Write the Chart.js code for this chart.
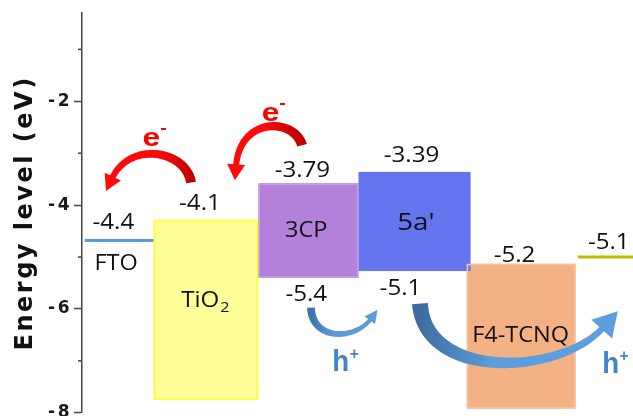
<!DOCTYPE html>
<html><head><meta charset="utf-8">
<script src="https://cdn.jsdelivr.net/npm/chart.js@4"></script>
<style>
html,body{margin:0;padding:0;overflow:hidden;background:#fff}
#wrap{position:relative;width:633px;height:425px}
</style>
</head><body><div id="wrap"><canvas id="c"></canvas></div>
<script>
// ---- data (energy levels in eV, horizontal spans in arbitrary x units) ----
const materials   = ['FTO', 'TiO2', '3CP', "5a'", 'F4-TCNQ', 'contact'];
const upperLevel  = [-4.68, -4.28, -3.58, -3.36, -5.13, -5.00];   // drawn top edge
const lowerLevel  = [null,  -7.75, -5.40, -5.27, -7.92, null ];   // drawn bottom edge (null = single line)
const spanStart   = [0.05, 1.30, 3.20, 5.02, 6.98, 9.00];
const spanEnd     = [1.30, 3.20, 5.02, 7.05, 8.96, 10.0];
const upperLabels = ['-4.4', '-4.1', '-3.79', '-3.39', '-5.2', '-5.1'];
const lowerLabels = ['', '', '-5.4', '-5.1', '', ''];
const nameLabels  = ['FTO', 'TiO2', '3CP', "5a'", 'F4-TCNQ', ''];
const yTickValues = [-8, -6, -4, -2];

// ---- styles ----
const fillColors   = ['#5b9bd5', '#ffff99', '#b381d9', '#6474ef', '#f4b183', '#bfbf00'];
const borderColors = [null, '#ffff2e', '#c6a0e4', '#6474ef', '#f6c3a0', null];

// annotation anchors (data units)
const upperLabelPos = [[0.57,-4.34],[2.14,-3.98],[4.00,-3.35],[5.98,-3.06],[7.85,-4.98],[9.56,-4.73]];
const lowerLabelPos = [null,null,[4.07,-5.74],[5.78,-5.62],null,null];
const namePos       = [[0.62,-5.14],[2.23,-5.84],[4.07,-4.49],[6.06,-4.34],[7.96,-6.53],null];
const electronPos = [[1.10,-2.86],[3.26,-2.38]];
const holePos     = [[4.54,-7.19],[9.44,-7.23]];
const arrows = [
  {pts:[[1.978,-3.563],[1.887,-2.945],[0.871,-2.752],[0.544,-3.486]], w0:10, w1:6, hw:18, hl:14, c0:'#c00000', c1:'#ff0a0a'},
  {pts:[[3.993,-2.849],[3.866,-2.328],[2.868,-2.270],[2.795,-3.254]], w0:10, w1:6, hw:18, hl:14, c0:'#c00000', c1:'#ff0a0a'},
  {pts:[[4.156,-5.975],[4.174,-6.611],[4.955,-6.611],[5.245,-6.187]], w0:8, w1:4, hw:13, hl:11, c0:'#3f72a8', c1:'#5b9bd8'},
  {pts:[[6.134,-5.897],[6.225,-7.383],[8.675,-7.286],[9.456,-6.360]], w0:16, w1:6, hw:28, hl:22, c0:'#3d6c9e', c1:'#5d9fdc'}
];

const datasets = materials.map((m, i) => {
  const isLine = lowerLevel[i] === null;
  return {
    label: m,
    data: [{x: spanStart[i], y: upperLevel[i]}, {x: spanEnd[i], y: upperLevel[i]}],
    borderColor: isLine ? fillColors[i] : 'rgba(0,0,0,0)',
    borderWidth: isLine ? 3 : 0,
    backgroundColor: fillColors[i],
    fill: isLine ? false : {value: lowerLevel[i]},
    pointRadius: 0, pointHoverRadius: 0, tension: 0
  };
});

function bez(p, t) {
  const u = 1 - t;
  return {
    x: u*u*u*p[0].x + 3*u*u*t*p[1].x + 3*u*t*t*p[2].x + t*t*t*p[3].x,
    y: u*u*u*p[0].y + 3*u*u*t*p[1].y + 3*u*t*t*p[2].y + t*t*t*p[3].y
  };
}
function drawArrow(ctx, p, a) {
  const N = 60, L = [], R = [];
  let dEnd = null;
  for (let i = 0; i <= N; i++) {
    const t = i / N;
    const c = bez(p, t);
    const q = bez(p, Math.min(1, t + 0.002)), r = bez(p, Math.max(0, t - 0.002));
    let dx = q.x - r.x, dy = q.y - r.y; const len = Math.hypot(dx, dy) || 1; dx /= len; dy /= len;
    const w = (a.w0 + (a.w1 - a.w0) * t) / 2;
    L.push({x: c.x - dy * w, y: c.y + dx * w});
    R.push({x: c.x + dy * w, y: c.y - dx * w});
    if (i === N) dEnd = {x: dx, y: dy};
  }
  const g = ctx.createLinearGradient(p[0].x, p[0].y, p[3].x, p[3].y);
  g.addColorStop(0, a.c0); g.addColorStop(0.45, a.c1); g.addColorStop(1, a.c1);
  ctx.fillStyle = g;
  ctx.beginPath();
  ctx.moveTo(L[0].x, L[0].y);
  for (const pt of L) ctx.lineTo(pt.x, pt.y);
  for (let i = R.length - 1; i >= 0; i--) ctx.lineTo(R[i].x, R[i].y);
  ctx.closePath(); ctx.fill();
  const e = p[3], nx = -dEnd.y, ny = dEnd.x;
  const b = {x: e.x - dEnd.x * 2, y: e.y - dEnd.y * 2};
  ctx.fillStyle = a.c1;
  ctx.beginPath();
  ctx.moveTo(b.x + nx * a.hw / 2, b.y + ny * a.hw / 2);
  ctx.lineTo(e.x + dEnd.x * a.hl, e.y + dEnd.y * a.hl);
  ctx.lineTo(b.x - nx * a.hw / 2, b.y - ny * a.hw / 2);
  ctx.closePath(); ctx.fill();
}
function txt(ctx, s, x, y, font, color, sx, align) {
  ctx.save();
  ctx.translate(x, y); ctx.scale(sx, 1);
  ctx.font = font; ctx.fillStyle = color;
  ctx.textAlign = align || 'center'; ctx.textBaseline = 'middle';
  ctx.fillText(s, 0, 0);
  ctx.restore();
}

const spacingPlugin = {
  id: 'spacing',
  beforeDraw(c) { c.ctx.letterSpacing = '2.5px'; },
  beforeDatasetsDraw(c) { c.ctx.letterSpacing = '0px'; }
};

const annotationPlugin = {
  id: 'annotations',
  afterDatasetsDraw(chart) {
    const ctx = chart.ctx, xs = chart.scales.x, ys = chart.scales.y;
    const P = (v) => ({x: xs.getPixelForValue(v[0]), y: ys.getPixelForValue(v[1])});
    ctx.save();
    ctx.letterSpacing = '0px';
    // box outlines
    materials.forEach((m, i) => {
      if (lowerLevel[i] === null || !borderColors[i]) return;
      const x0 = xs.getPixelForValue(spanStart[i]), x1 = xs.getPixelForValue(spanEnd[i]);
      const y0 = ys.getPixelForValue(upperLevel[i]), y1 = ys.getPixelForValue(lowerLevel[i]);
      ctx.strokeStyle = borderColors[i]; ctx.lineWidth = 1.6;
      ctx.strokeRect(x0 + 0.8, y0 + 0.8, x1 - x0 - 1.6, y1 - y0 - 1.6);
    });
    // minor ticks
    ctx.strokeStyle = '#444'; ctx.lineWidth = 1.5;
    for (let v = -7; v <= -1; v += 2) {
      const y = ys.getPixelForValue(v);
      ctx.beginPath(); ctx.moveTo(xs.left - 4, y); ctx.lineTo(xs.left, y); ctx.stroke();
    }
    // arrows
    arrows.forEach(a => drawArrow(ctx, a.pts.map(P), a));
    const lf = '21px "Open Sans"';
    upperLabels.forEach((s, i) => { const p = P(upperLabelPos[i]); txt(ctx, s, p.x, p.y, lf, '#111', 1.15); });
    lowerLabels.forEach((s, i) => { if (!s) return; const p = P(lowerLabelPos[i]); txt(ctx, s, p.x, p.y, lf, '#111', 1.15); });
    nameLabels.forEach((s, i) => {
      if (!s) return;
      const p = P(namePos[i]);
      if (s === 'TiO2') {
        ctx.save(); ctx.font = lf; const w1 = ctx.measureText('TiO').width * 1.15;
        ctx.font = '14px "Open Sans"'; const w2 = ctx.measureText('2').width * 1.15; ctx.restore();
        const x0 = p.x - (w1 + w2) / 2;
        txt(ctx, 'TiO', x0, p.y, lf, '#111', 1.15, 'left');
        txt(ctx, '2', x0 + w1 + 1, p.y + 7, '14px "Open Sans"', '#111', 1.15, 'left');
      } else if (s === "5a'") {
        txt(ctx, s, p.x, p.y, '24px "Open Sans"', '#111', 1.15);
      } else {
        txt(ctx, s, p.x, p.y, lf, '#111', 1.12);
      }
    });
    // e- labels
    electronPos.forEach(v => {
      const p = P(v);
      ctx.save(); ctx.translate(p.x, p.y); ctx.scale(1.22, 1);
      ctx.font = 'bold 26px "Liberation Sans"'; ctx.fillStyle = '#ff0000';
      ctx.textAlign = 'left'; ctx.textBaseline = 'alphabetic';
      ctx.fillText('e', 0, 0);
      ctx.font = 'bold 16px "Liberation Sans"'; ctx.fillText('-', 14.5, -13);
      ctx.restore();
    });
    // h+ labels
    holePos.forEach(v => {
      const p = P(v);
      ctx.save(); ctx.translate(p.x, p.y); ctx.scale(0.92, 1);
      ctx.font = 'bold 30px "Liberation Sans"'; ctx.fillStyle = '#4283cc';
      ctx.textAlign = 'left'; ctx.textBaseline = 'alphabetic';
      ctx.fillText('h', 0, 0);
      ctx.font = 'bold 17px "Liberation Sans"'; ctx.fillText('+', 19, -12);
      ctx.restore();
    });
    ctx.restore();
  }
};

new Chart(document.getElementById('c'), {
  type: 'line',
  data: {datasets},
  options: {
    responsive: true, maintainAspectRatio: false, animation: false,
    events: [],
    layout: {padding: {top: 13, bottom: 11, left: 0, right: 0}},
    plugins: {legend: {display: false}, tooltip: {enabled: false}},
    scales: {
      x: {type: 'linear', min: 0, max: 10, display: false},
      y: {
        type: 'linear', min: -8, max: -0.3, position: 'left',
        afterBuildTicks: (s) => { s.ticks = yTickValues.map(v => ({value: v})); },
        afterFit: (s) => { s.width = 82; },
        ticks: {color: '#1a1a1a', padding: 2, font: {family: 'DejaVu Sans', weight: 'bold', size: 17}},
        grid: {drawOnChartArea: false, drawTicks: true, tickLength: 8, tickColor: '#444', tickWidth: 1.5},
        border: {display: true, color: '#444', width: 1.5},
        title: {display: true, text: 'Energy level (eV)', color: '#111',
                font: {family: 'DejaVu Sans', weight: 'bold', size: 24}, padding: {top: 11, bottom: 0}}
      }
    }
  },
  plugins: [spacingPlugin, annotationPlugin]
});
</script>
</body></html>
